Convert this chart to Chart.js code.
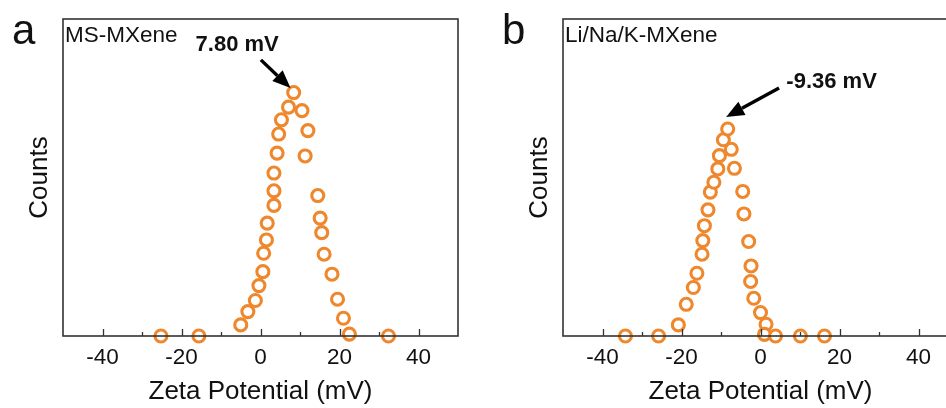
<!DOCTYPE html>
<html>
<head>
<meta charset="utf-8">
<title>Zeta potential</title>
<script src="https://cdn.jsdelivr.net/npm/chart.js@4/dist/chart.umd.min.js"></script>
<style>
  html, body { margin: 0; padding: 0; background: #fff; overflow: hidden; }
  body { width: 946px; height: 408px; position: relative; }
  canvas { position: absolute; top: 0; }
  #chartA { left: 0; }
  #chartB { left: 500px; }
</style>
</head>
<body>
<canvas id="chartA" width="480" height="408"></canvas>
<canvas id="chartB" width="480" height="408"></canvas>
<script>
// zeta potential distributions (mV vs. relative counts)
const msX = [-25.2, -15.6, -5.0, -3.2, -1.3, -0.4, 0.6, 0.8, 1.5, 1.7, 3.4, 3.4, 3.4, 4.2, 4.6, 5.3, 7.1, 8.4, 10.5, 12.0, 11.3, 14.5, 15.1, 15.5, 16.1, 18.1, 19.5, 21.0, 22.5, 32.4];
const msY = [0, 0, 3.5, 7.7, 11.2, 15.9, 20.3, 26.1, 30.3, 35.6, 41.2, 45.8, 51.4, 57.7, 63.7, 68.2, 72.2, 76.8, 71.1, 64.8, 56.8, 44.3, 37.2, 32.6, 25.8, 19.5, 11.6, 5.6, 0.6, 0];

const liX = [-34.2, -25.8, -20.8, -18.8, -17.0, -16.1, -14.8, -14.6, -14.2, -13.3, -12.7, -11.8, -10.8, -10.4, -9.4, -8.3, -7.4, -6.6, -4.5, -4.2, -3.0, -2.4, -2.5, -1.7, 0.0, 1.4, 1.0, 3.8, 10.1, 16.2];
const liY = [0, 0, 3.5, 10.0, 15.3, 19.8, 25.8, 30.1, 34.8, 39.8, 45.4, 48.5, 52.7, 56.9, 61.9, 65.3, 58.9, 52.9, 45.6, 38.5, 29.8, 22.1, 17.2, 11.9, 7.4, 3.7, 0.5, 0, 0, 0];

const xTicks = [-40, -20, 0, 20, 40];
const xMinorTicks = [-30, -10, 10, 30];

const orange = '#ef872c';
const axisColor = '#333';
const fontFamily = '"Liberation Sans", Arial, Helvetica, sans-serif';

// draws the frame, inward ticks, panel letter, sample name and the peak arrow
const panelDecor = {
  id: 'panelDecor',
  afterDatasetsDraw(chart, args, opts) {
    const ctx = chart.ctx;
    const area = chart.chartArea;
    const xs = chart.scales.x;
    const ys = chart.scales.y;
    ctx.save();

    ctx.strokeStyle = axisColor;
    ctx.lineWidth = 1.6;
    ctx.strokeRect(area.left, area.top, area.right - area.left, area.bottom - area.top);

    ctx.lineWidth = 1.3;
    ctx.beginPath();
    xTicks.forEach(v => {
      const px = Math.round(xs.getPixelForValue(v)) + 0.5;
      ctx.moveTo(px, area.bottom);
      ctx.lineTo(px, area.bottom - 7);
    });
    xMinorTicks.forEach(v => {
      const px = Math.round(xs.getPixelForValue(v)) + 0.5;
      ctx.moveTo(px, area.bottom);
      ctx.lineTo(px, area.bottom - 4);
    });
    ctx.stroke();

    ctx.fillStyle = '#111';
    ctx.textBaseline = 'alphabetic';
    ctx.textAlign = 'left';
    ctx.font = '42px ' + fontFamily;
    ctx.fillText(opts.letter, opts.letterX, 44);

    ctx.font = '22.5px ' + fontFamily;
    ctx.fillText(opts.name, area.left + 2, 42);

    const a = opts.arrow;
    const tx = xs.getPixelForValue(a.tip[0]), ty = ys.getPixelForValue(a.tip[1]);
    const sx = xs.getPixelForValue(a.tail[0]), sy = ys.getPixelForValue(a.tail[1]);
    const ang = Math.atan2(ty - sy, tx - sx);
    const headLen = 18, headHalf = 7.5;
    const bx = tx - headLen * Math.cos(ang), by = ty - headLen * Math.sin(ang);
    ctx.strokeStyle = '#000';
    ctx.lineWidth = 3.4;
    ctx.beginPath();
    ctx.moveTo(sx, sy);
    ctx.lineTo(bx, by);
    ctx.stroke();
    ctx.fillStyle = '#000';
    ctx.beginPath();
    ctx.moveTo(tx, ty);
    ctx.lineTo(bx + headHalf * Math.sin(ang), by - headHalf * Math.cos(ang));
    ctx.lineTo(bx - headHalf * Math.sin(ang), by + headHalf * Math.cos(ang));
    ctx.closePath();
    ctx.fill();

    ctx.font = 'bold 22px ' + fontFamily;
    ctx.textAlign = 'center';
    ctx.textBaseline = 'middle';
    ctx.fillStyle = '#111';
    ctx.fillText(a.text, xs.getPixelForValue(a.at[0]), ys.getPixelForValue(a.at[1]));

    ctx.restore();
  }
};

function makePanel(id, xVals, yVals, decor, leftWidth) {
  const points = xVals.map((x, i) => ({ x: x, y: yVals[i] }));
  return new Chart(document.getElementById(id), {
    type: 'scatter',
    data: {
      datasets: [{
        data: points,
        pointStyle: 'circle',
        pointRadius: 6,
        pointBorderWidth: 3.1,
        borderColor: orange,
        backgroundColor: '#fff',
        clip: false
      }]
    },
    options: {
      responsive: false,
      devicePixelRatio: 1,
      animation: false,
      events: [],
      layout: { padding: { top: 19, right: 22, left: 0, bottom: 0 } },
      plugins: {
        legend: { display: false },
        tooltip: { enabled: false },
        panelDecor: decor
      },
      scales: {
        x: {
          type: 'linear',
          min: -50,
          max: 50,
          afterBuildTicks: (scale) => { scale.ticks = xTicks.map(v => ({ value: v })); },
          afterFit: (scale) => { scale.height = 72; },
          grid: { display: false, drawTicks: false },
          border: { display: false },
          ticks: {
            padding: 8,
            color: '#111',
            font: { family: fontFamily, size: 22.5 }
          },
          title: {
            display: true,
            text: 'Zeta Potential (mV)',
            color: '#111',
            font: { family: fontFamily, size: 26 },
            padding: { top: 0, bottom: 1 }
          }
        },
        y: {
          min: 0,
          max: 100,
          afterFit: (scale) => { scale.width = leftWidth; },
          grid: { display: false, drawTicks: false },
          border: { display: false },
          ticks: { display: false },
          title: {
            display: true,
            text: 'Counts',
            color: '#111',
            font: { family: fontFamily, size: 26 },
            padding: { top: 24, bottom: 0 }
          }
        }
      }
    },
    plugins: [panelDecor]
  });
}

makePanel('chartA', msX, msY, {
  letter: 'a',
  letterX: 12,
  name: 'MS-MXene',
  arrow: { text: '7.80 mV', at: [-5.9, 91.8], tail: [0.1, 87.1], tip: [7.6, 78.2] }
}, 63);

makePanel('chartB', liX, liY, {
  letter: 'b',
  letterX: 2,
  name: 'Li/Na/K-MXene',
  arrow: { text: '-9.36 mV', at: [18.0, 80.1], tail: [4.7, 78.2], tip: [-8.7, 69.1] }
}, 63);
</script>
</body>
</html>
